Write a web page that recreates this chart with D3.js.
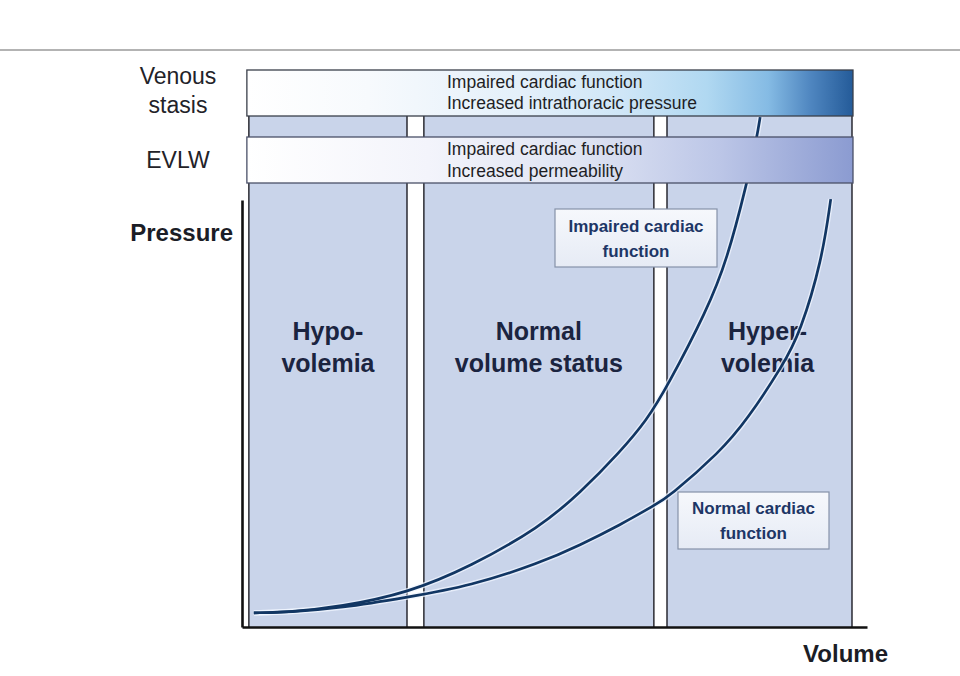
<!DOCTYPE html>
<html>
<head>
<meta charset="utf-8">
<script src="https://cdn.jsdelivr.net/npm/d3@7"></script>
<style>
  html, body { margin: 0; padding: 0; background: #ffffff; }
  svg { display: block; }
  text { font-family: "Liberation Sans", Arial, Helvetica, sans-serif; }
</style>
</head>
<body>
<svg id="chart" width="960" height="676"></svg>
<script>
// ---------- DATA ----------
const zoneLabels = [["Hypo-", "volemia"], ["Normal", "volume status"], ["Hyper-", "volemia"]];
const zoneStart = [1.1, 29.1, 68.0];
const zoneEnd = [26.4, 65.9, 97.6];

const impairedVolume   = [1.9, 7.7, 15.7, 26.6, 36.5, 47.7, 54.1, 60.5, 64.8, 68.0, 74.4, 77.6, 80.8, 82.4, 82.9];
const impairedPressure = [3.3, 3.5, 4.7, 8.0, 14.1, 23.4, 31.4, 41.0, 48.5, 56.2, 74.2, 85.9, 104.0, 114.8, 119.4];

const normalVolume   = [1.9, 7.7, 15.7, 26.6, 36.5, 47.7, 54.1, 60.5, 66.1, 68.2, 76.5, 80.8, 86.6, 89.3, 92.8, 94.2];
const normalPressure = [3.3, 3.5, 4.4, 7.0, 9.6, 15.0, 19.2, 23.9, 28.6, 30.4, 41.0, 48.5, 61.4, 68.9, 85.9, 100.2];

const bandTitles = [["Venous", "stasis"], ["EVLW"]];
const bandTexts = [["Impaired cardiac function", "Increased intrathoracic pressure"],
                   ["Impaired cardiac function", "Increased permeability"]];
const curveLabels = [["Impaired cardiac", "function"], ["Normal cardiac", "function"]];
const axisTitles = ["Pressure", "Volume"];

// ---------- SCALES ----------
const svg = d3.select("#chart");
const x = d3.scaleLinear().domain([0, 100]).range([242, 867]);
const y = d3.scaleLinear().domain([0, 100]).range([627, 200]);

const defs = svg.append("defs");
const g1 = defs.append("linearGradient").attr("id", "gTop").attr("x1", "0%").attr("x2", "100%");
[[0, "#ffffff"], [0.2, "#f7fafd"], [0.45, "#e4f0fa"], [0.62, "#cfe6f7"], [0.76, "#b0d8f1"],
 [0.86, "#85bbe4"], [0.93, "#4f86c0"], [1, "#245b99"]]
  .forEach(([o, c]) => g1.append("stop").attr("offset", o).attr("stop-color", c));
const g2 = defs.append("linearGradient").attr("id", "gEv").attr("x1", "0%").attr("x2", "100%");
[[0, "#ffffff"], [0.3, "#f3f4fb"], [0.55, "#dfe4f3"], [0.78, "#bcc6e7"], [1, "#8b9bd1"]]
  .forEach(([o, c]) => g2.append("stop").attr("offset", o).attr("stop-color", c));
const gBox = defs.append("linearGradient").attr("id", "gBox").attr("x1", "0%").attr("y1", "0%").attr("x2", "0%").attr("y2", "100%");
[[0, "#f6f8fc"], [1, "#e6ebf5"]].forEach(([o, c]) => gBox.append("stop").attr("offset", o).attr("stop-color", c));

// top rule
svg.append("line").attr("x1", 0).attr("x2", 960).attr("y1", 50).attr("y2", 50)
  .attr("stroke", "#9a9a9a").attr("stroke-width", 1.5);

const colTop = 116, colBottom = 627;

// ---------- ZONES (columns) ----------
const zones = zoneLabels.map((l, i) => ({ label: l, x0: zoneStart[i], x1: zoneEnd[i] }));
svg.append("g").selectAll("rect").data(zones).join("rect")
  .attr("x", d => x(d.x0)).attr("y", colTop)
  .attr("width", d => x(d.x1) - x(d.x0)).attr("height", colBottom - colTop)
  .attr("fill", "#c9d4ea");

// gaps between zones (white with dark edges)
const gaps = d3.range(zones.length - 1).map(i => [zoneEnd[i], zoneStart[i + 1]]);
svg.append("g").selectAll("rect").data(gaps).join("rect")
  .attr("x", d => x(d[0])).attr("y", colTop)
  .attr("width", d => x(d[1]) - x(d[0])).attr("height", colBottom - colTop)
  .attr("fill", "#ffffff");
const edgeXs = [zoneStart[0]].concat(gaps.flat(), [zoneEnd[zoneEnd.length - 1]]);
svg.append("g").selectAll("line").data(edgeXs).join("line")
  .attr("x1", d => x(d)).attr("x2", d => x(d)).attr("y1", colTop).attr("y2", colBottom)
  .attr("stroke", "#1c1c24").attr("stroke-width", 1.4);

// zone labels
const zl = svg.append("g").selectAll("text").data(zones).join("text")
  .attr("text-anchor", "middle").attr("font-size", 25).attr("font-weight", "bold").attr("fill", "#1b2440");
zl.each(function (d, i) {
  const cx = (x(d.x0) + x(d.x1)) / 2 + (i === 2 ? 8 : 0);
  d3.select(this).selectAll("tspan").data(d.label).join("tspan")
    .attr("x", cx).attr("y", (t, j) => 340 + j * 32).text(t => t);
});

// ---------- CURVES ----------
const line = d3.line().x(d => x(d[0])).y(d => y(d[1])).curve(d3.curveBasis);
const curves = [
  d3.zip(impairedVolume, impairedPressure),
  d3.zip(normalVolume, normalPressure)
];
const cg = svg.append("g");
cg.selectAll("path.halo").data(curves).join("path").attr("class", "halo")
  .attr("d", line).attr("fill", "none").attr("stroke", "rgba(240,246,255,0.75)").attr("stroke-width", 5.5);
cg.selectAll("path.main").data(curves).join("path").attr("class", "main")
  .attr("d", line).attr("fill", "none").attr("stroke", "#113663").attr("stroke-width", 2.7);

// ---------- BANDS ----------
const bandX0 = x(zoneStart[0]) - 2, bandX1 = x(zoneEnd[2]) + 1;
const bands = [
  { y0: 70, y1: 116, fill: "url(#gTop)", stroke: "#3a3f4a", title: bandTitles[0], text: bandTexts[0], ty: [88, 109], tty: [84, 113] },
  { y0: 137, y1: 183, fill: "url(#gEv)", stroke: "#4a5068", title: bandTitles[1], text: bandTexts[1], ty: [155, 177], tty: [168] }
];
const bg = svg.append("g").selectAll("g").data(bands).join("g");
bg.append("rect")
  .attr("x", bandX0).attr("y", d => d.y0).attr("width", bandX1 - bandX0).attr("height", d => d.y1 - d.y0)
  .attr("fill", d => d.fill).attr("stroke", d => d.stroke).attr("stroke-width", 1.3);
bg.append("text").attr("font-size", 17.5).attr("fill", "#1e1e24")
  .each(function (d) {
    d3.select(this).selectAll("tspan").data(d.text).join("tspan")
      .attr("x", 447).attr("y", (t, j) => d.ty[j]).text(t => t);
  });
bg.append("text").attr("font-size", 23).attr("fill", "#222228").attr("text-anchor", "middle")
  .each(function (d) {
    d3.select(this).selectAll("tspan").data(d.title).join("tspan")
      .attr("x", 178).attr("y", (t, j) => d.tty[j]).text(t => t);
  });

// ---------- CURVE LABEL BOXES ----------
const boxes = [
  { x0: 555, y0: 209, x1: 717, y1: 267, text: curveLabels[0], ty: [232, 257] },
  { x0: 678, y0: 492, x1: 829, y1: 549, text: curveLabels[1], ty: [514, 539] }
];
const bx = svg.append("g").selectAll("g").data(boxes).join("g");
bx.append("rect").attr("x", d => d.x0).attr("y", d => d.y0)
  .attr("width", d => d.x1 - d.x0).attr("height", d => d.y1 - d.y0)
  .attr("fill", "url(#gBox)").attr("stroke", "#8592a8").attr("stroke-width", 1.2);
bx.append("text").attr("text-anchor", "middle").attr("font-size", 17).attr("font-weight", "bold").attr("fill", "#1d3666")
  .each(function (d) {
    d3.select(this).selectAll("tspan").data(d.text).join("tspan")
      .attr("x", (d.x0 + d.x1) / 2).attr("y", (t, j) => d.ty[j]).text(t => t);
  });

// ---------- AXES ----------
const yAxis = d3.axisLeft(y).tickValues([]).tickSizeOuter(0);
const xAxis = d3.axisBottom(x).tickValues([]).tickSizeOuter(0);
svg.append("g").attr("transform", `translate(${x(0)},0)`).call(yAxis)
  .select(".domain").attr("stroke", "#111").attr("stroke-width", 2.6);
svg.append("g").attr("transform", `translate(0,${y(0)})`).call(xAxis)
  .select(".domain").attr("stroke", "#111").attr("stroke-width", 2.6);

svg.append("text").attr("x", 233).attr("y", 241).attr("text-anchor", "end")
  .attr("font-size", 24).attr("font-weight", "bold").attr("fill", "#1b1d26").text(axisTitles[0]);
svg.append("text").attr("x", 888).attr("y", 662).attr("text-anchor", "end")
  .attr("font-size", 24).attr("font-weight", "bold").attr("fill", "#1b1d26").text(axisTitles[1]);
</script>
</body>
</html>
